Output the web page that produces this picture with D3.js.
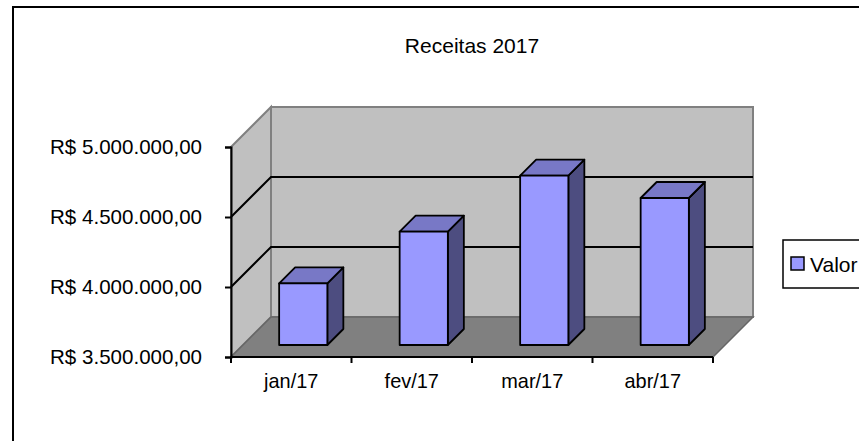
<!DOCTYPE html>
<html>
<head>
<meta charset="utf-8">
<script src="https://cdn.jsdelivr.net/npm/d3@7"></script>
<style>
  body { margin: 0; background: #fff; }
  text { font-family: "Liberation Sans", Arial, sans-serif; fill: #000; }
</style>
</head>
<body>
<div id="chart"></div>
<script>
// chart data
var months = ["jan/17", "fev/17", "mar/17", "abr/17"];
var valores = [3940000, 4310000, 4710000, 4550000];
var yTicks = [3500000, 4000000, 4500000, 5000000];
var title = "Receitas 2017";
var seriesName = "Valor";

var W = 859, H = 441;

// front plane of the plot and the 3d depth offset
var plot = {left: 231, right: 713, top: 147, bottom: 357};
var depth = {dx: 40, dy: -40};

var svg = d3.select("#chart")
  .append("svg")
    .attr("width", W)
    .attr("height", H);

// outer chart border (runs off the right/bottom edge)
svg.append("rect")
  .attr("x", 13).attr("y", 7)
  .attr("width", 900).attr("height", 500)
  .attr("fill", "#fff")
  .attr("stroke", "#000")
  .attr("stroke-width", 2);

var x = d3.scaleBand()
  .domain(months)
  .range([plot.left, plot.right]);

var y = d3.scaleLinear()
  .domain([yTicks[0], yTicks[yTicks.length - 1]])
  .range([plot.bottom, plot.top]);

var br = d3.formatLocale({decimal: ",", thousands: ".", grouping: [3], currency: ["R$ ", ""]});
var fmt = br.format("$,.2f");

var yMin = y.domain()[0], yMax = y.domain()[1];
var pt = function(px, py, f) { return [px + depth.dx * f, py + depth.dy * f]; };
var poly = function(pts) { return pts.map(function(p) { return p.join(","); }).join(" "); };

// left wall
svg.append("polygon")
  .attr("points", poly([pt(plot.left, y(yMax), 0), pt(plot.left, y(yMax), 1), pt(plot.left, y(yMin), 1), pt(plot.left, y(yMin), 0)]))
  .attr("fill", "#c0c0c0")
  .attr("stroke", "#808080")
  .attr("stroke-width", 2);

// back wall
svg.append("polygon")
  .attr("points", poly([pt(plot.left, y(yMax), 1), pt(plot.right, y(yMax), 1), pt(plot.right, y(yMin), 1), pt(plot.left, y(yMin), 1)]))
  .attr("fill", "#c0c0c0")
  .attr("stroke", "#808080")
  .attr("stroke-width", 2);

// floor
svg.append("polygon")
  .attr("points", poly([pt(plot.left, y(yMin), 0), pt(plot.right, y(yMin), 0), pt(plot.right, y(yMin), 1), pt(plot.left, y(yMin), 1)]))
  .attr("fill", "#808080")
  .attr("stroke", "#666")
  .attr("stroke-width", 1.5);

// gridlines on walls
var inner = yTicks.filter(function(t) { return t > yMin && t < yMax; });
var grid = svg.append("g").attr("stroke", "#000").attr("stroke-width", 2).attr("fill", "none");
inner.forEach(function(t) {
  var a = pt(plot.left, y(t), 0), b = pt(plot.left, y(t), 1), c = pt(plot.right, y(t), 1);
  grid.append("polyline").attr("points", poly([a, b, c]));
});

// bars (sit in the middle of the depth, 40% of the category width)
var f0 = 0.3, f1 = 0.7, bw = x.bandwidth() * 0.4;
var bars = svg.append("g")
  .attr("stroke", "#000")
  .attr("stroke-width", 1.8)
  .attr("stroke-linejoin", "round");

months.forEach(function(m, i) {
  var xl = x(m) + x.bandwidth() / 2 - bw / 2, xr = xl + bw;
  var yt = y(valores[i]), yb = y(yMin);
  // side
  bars.append("polygon")
    .attr("points", poly([pt(xr, yt, f0), pt(xr, yt, f1), pt(xr, yb, f1), pt(xr, yb, f0)]))
    .attr("fill", "#4d4d80");
  // top
  bars.append("polygon")
    .attr("points", poly([pt(xl, yt, f0), pt(xl, yt, f1), pt(xr, yt, f1), pt(xr, yt, f0)]))
    .attr("fill", "#7878c6");
  // front
  bars.append("polygon")
    .attr("points", poly([pt(xl, yt, f0), pt(xr, yt, f0), pt(xr, yb, f0), pt(xl, yb, f0)]))
    .attr("fill", "#9999ff");
});

// y axis
var yAxis = svg.append("g")
  .attr("transform", "translate(" + plot.left + ",0)")
  .call(d3.axisLeft(y).tickValues(yTicks).tickFormat(fmt).tickSize(6).tickPadding(23));
yAxis.select(".domain").attr("stroke", "#000").attr("stroke-width", 2);
yAxis.selectAll(".tick line").attr("stroke", "#000").attr("stroke-width", 2);
yAxis.selectAll("text")
  .style("font-family", "'Liberation Sans', Arial, sans-serif")
  .style("font-size", "21px")
  .attr("textLength", 152)
  .attr("lengthAdjust", "spacingAndGlyphs")
  .attr("fill", "#000");

// x axis: labels at centres, ticks at category boundaries
var xAxis = svg.append("g")
  .attr("transform", "translate(0," + plot.bottom + ")")
  .call(d3.axisBottom(x).tickSize(0).tickPadding(16));
xAxis.select(".domain").remove();
xAxis.selectAll("text")
  .style("font-family", "'Liberation Sans', Arial, sans-serif")
  .style("font-size", "21px")
  .attr("transform", "scale(0.95,1)")
  .attr("fill", "#000");
var bounds = months.map(function(m) { return x(m); }).concat([plot.right]);
xAxis.selectAll(".bound")
  .data(bounds)
  .enter().append("line")
    .attr("x1", function(d) { return d; }).attr("x2", function(d) { return d; })
    .attr("y1", 0).attr("y2", 6)
    .attr("stroke", "#000").attr("stroke-width", 2);
xAxis.append("line")
  .attr("x1", plot.left - 1).attr("x2", plot.right)
  .attr("stroke", "#000").attr("stroke-width", 2);

// title
svg.append("text")
  .attr("x", 472).attr("y", 53)
  .attr("text-anchor", "middle")
  .style("font-size", "21px")
  .text(title);

// legend
var leg = svg.append("g").attr("transform", "translate(783,240)");
leg.append("rect")
  .attr("width", 100).attr("height", 48)
  .attr("fill", "#fff").attr("stroke", "#000").attr("stroke-width", 1.5);
leg.append("rect")
  .attr("x", 8).attr("y", 17).attr("width", 13).attr("height", 13)
  .attr("fill", "#9999ff").attr("stroke", "#000").attr("stroke-width", 1.5);
leg.append("text")
  .attr("x", 27).attr("y", 32)
  .style("font-size", "21px")
  .text(seriesName);
</script>
</body>
</html>
